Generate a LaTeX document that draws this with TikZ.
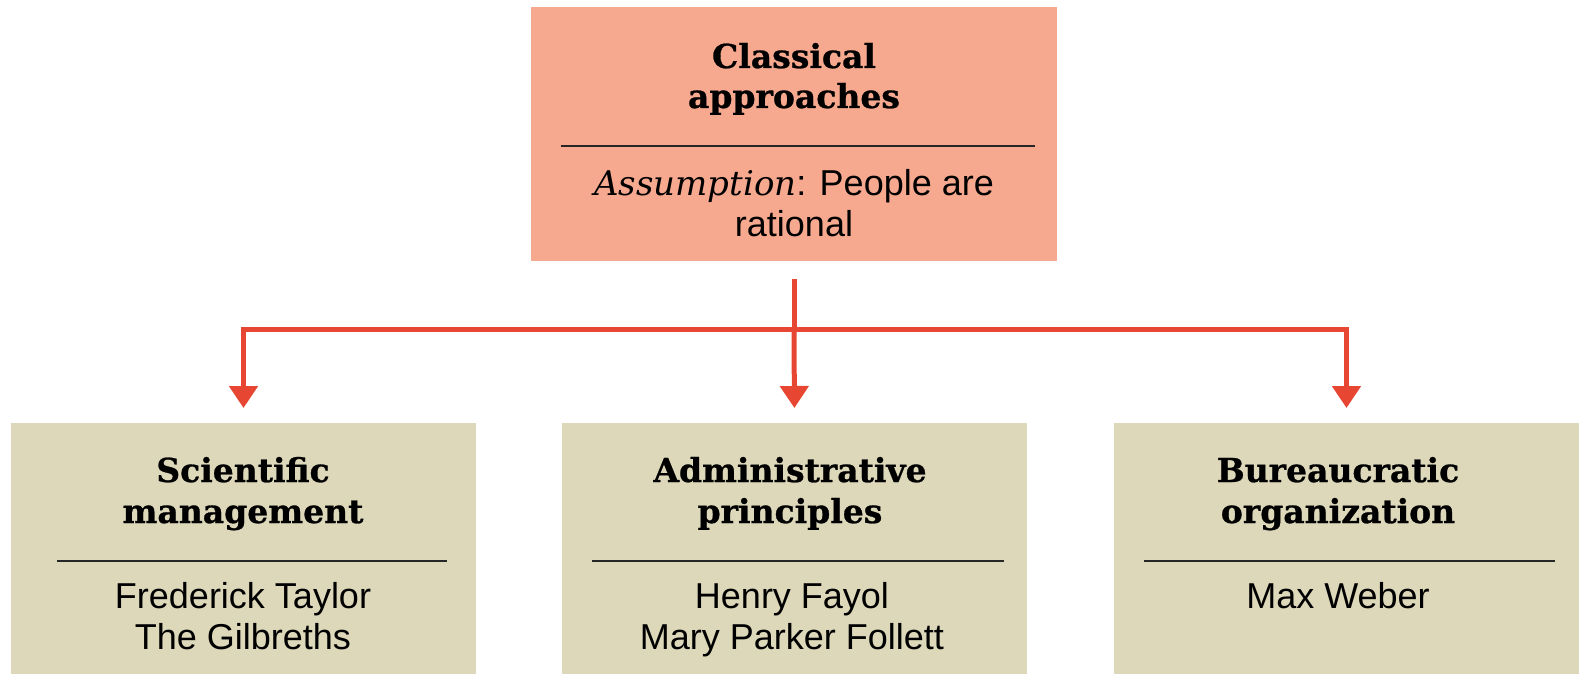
\documentclass[tikz,border=0pt]{standalone}
\usepackage{fontspec}
\setmainfont{Liberation Sans}
\newfontfamily\headfont{DejaVu Serif}[BoldFeatures={FakeBold=0.8}]
\usetikzlibrary{arrows.meta}

\definecolor{salmon}{RGB}{247,169,143}
\definecolor{khaki}{RGB}{221,216,185}
\definecolor{arrowred}{RGB}{230,70,50}

\tikzset{
  panel/.style={inner sep=0pt, outer sep=0pt, draw=none},
  toppanel/.style={panel, fill=salmon, minimum width=526pt, minimum height=254pt},
  subpanel/.style={panel, fill=khaki, minimum width=465pt, minimum height=252pt},
  head/.style={anchor=base, inner sep=0pt, font=\headfont\bfseries\fontsize{33}{40}\selectfont},
  body/.style={anchor=base, inner sep=0pt, font=\fontsize{36}{42}\selectfont},
  divider/.style={line width=2.4pt, draw=black!85},
  link/.style={draw=arrowred, line width=5pt},
  tip/.style={link, -{Triangle[width=28pt,length=22pt]}, shorten >=15pt},
}

\begin{document}
\begin{tikzpicture}[x=1pt,y=-1pt]
  \useasboundingbox (0,0) rectangle (1579,674);

  % boxes
  \node[toppanel] (top) at (794,134) {};
  \node[subpanel] (sci) at (243.5,549) {};
  \node[subpanel] (adm) at (794.5,549) {};
  \node[subpanel] (bur) at (1346.5,549) {};

  % top box text
  \node[head] (topA) at (794,68) {Classical};
  \node[head] (topB) at (794,108) {approaches};
  \draw[divider] ([shift={(30,139)}]top.north west) -- ([shift={(-22,139)}]top.north east);
  \node[body] (topC) at (794,195) {{\headfont\itshape\fontsize{34}{40}\selectfont Assumption}: People are};
  \node[body] (topD) at (794,236) {rational};

  % scientific management
  \node[head] (sciA) at (243,482) {Scientific};
  \node[head] (sciB) at (243,523) {management};
  \draw[divider] ([shift={(46,138)}]sci.north west) -- ([shift={(-29,138)}]sci.north east);
  \node[body] (sciC) at (243,608) {Frederick Taylor};
  \node[body] (sciD) at (243,649) {The Gilbreths};

  % administrative principles
  \node[head] (admA) at (790,482) {Administrative};
  \node[head] (admB) at (790,523) {principles};
  \draw[divider] ([shift={(30,138)}]adm.north west) -- ([shift={(-23,138)}]adm.north east);
  \node[body] (admC) at (792,608) {Henry Fayol};
  \node[body] (admD) at (792,649) {Mary Parker Follett};

  % bureaucratic organization
  \node[head] (burA) at (1338,482) {Bureaucratic};
  \node[head] (burB) at (1338,523) {organization};
  \draw[divider] ([shift={(30,138)}]bur.north west) -- ([shift={(-24,138)}]bur.north east);
  \node[body] (burC) at (1338,608) {Max Weber};

  % connectors
  \coordinate (split) at (794,329);
  \draw[link, shorten <=18pt] (top.south) -- (split);
  \draw[tip] (split) -| (sci.north);
  \draw[tip] (split) -- (adm.north);
  \draw[tip] (split) -| (bur.north);
\end{tikzpicture}
\end{document}
